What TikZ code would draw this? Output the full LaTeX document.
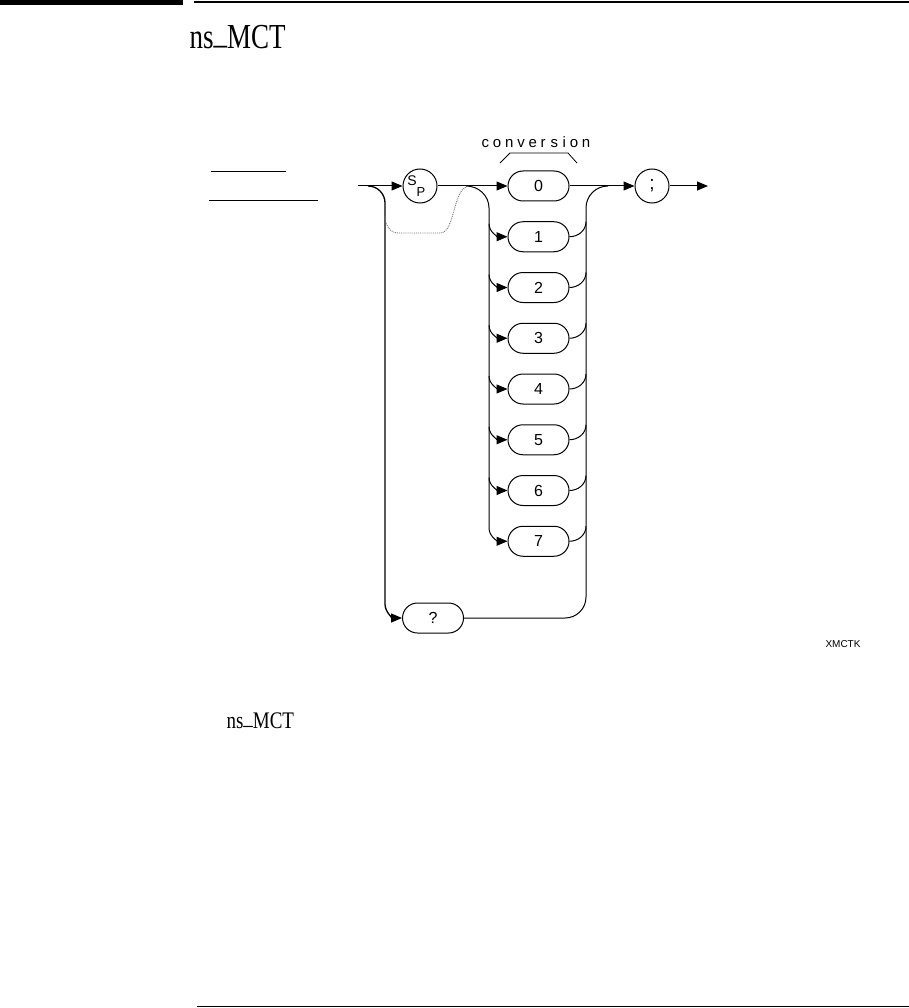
\documentclass[tikz,border=0pt]{standalone}
\usepackage{fontspec}
\setmainfont{Liberation Serif}
\newfontfamily\lbl{Liberation Sans}
\usetikzlibrary{arrows.meta}
\begin{document}
\begin{tikzpicture}[x=1pt,y=-1pt,line width=1pt,
  arr/.style={-{Triangle[length=11pt,width=9pt]}},
  box/.style={draw,rounded corners=15pt,minimum width=61pt,minimum height=30pt,inner sep=0pt,font=\lbl\fontsize{16}{16}\selectfont},
  circ/.style={draw,circle,minimum size=34pt,inner sep=0pt},
  lab/.style={inner sep=0pt,font=\lbl\fontsize{12}{12}\selectfont},
  dots/.style={densely dotted,black!55,line width=0.9pt}]
\useasboundingbox (0,0) rectangle (909,1008);
% page rules
\draw[line width=5pt] (0,2.5) -- (183,2.5);
\draw[line width=2.2pt] (194,2.3) -- (909,2.3);
\draw[line width=1.4pt] (197,1006.5) -- (909,1006.5);
% titles
\node[anchor=base west,inner sep=0pt,font=\fontsize{27}{27}\selectfont] (title) at (189,49) {\scalebox{1}[1.3]{ns\raisebox{0.15em}{\_}MCT}};
\node[anchor=base west,inner sep=0pt,font=\fontsize{19}{19}\selectfont] (sub) at (226,728) {\scalebox{1}[1.25]{ns\raisebox{0.15em}{\_}MCT}};
% blank fields
\draw (211,171.5) -- (286,171.5);
\draw (209,201) -- (318,201);
% nodes
\coordinate (start) at (358,186);
\coordinate (end) at (708,186);
\node[circ] (sp) at (420,186) {};
\node[lab,font=\lbl\fontsize{14}{14}\selectfont] (spS) at (412,180.5) {S};
\node[lab,font=\lbl\fontsize{13}{13}\selectfont] (spP) at (421,192.5) {P};
\node[box] (b0) at (538.5,186) {0};
\foreach \i in {1,...,7}{
  \pgfmathsetmacro\yy{186+50.75*\i}
  \node[box] (b\i) at (538.5,\yy) {\i};
}
\node[circ] (semi) at (652,186) {};
\node[lab,font=\lbl\fontsize{19}{19}\selectfont] (semis) at (652,186) {;};
\node[box] (q) at (433,618) {?};
% label above 0
\node[lab,font=\lbl\fontsize{15}{15}\selectfont,anchor=base] (conv) at (536,148)
 {c\hspace{3.8pt}o\hspace{3.8pt}n\hspace{3.8pt}v\hspace{3.8pt}e\hspace{3.8pt}r\hspace{5pt}s\hspace{4.5pt}i\hspace{3.8pt}o\hspace{3.8pt}n};
\draw[line width=0.8pt] (500,163) -- (510,153) -- (568,153) -- (577,163);
\node[lab,font=\lbl\fontsize{10}{10}\selectfont,anchor=base] (fig) at (843,647) {XMCTK};
% main line
\draw[arr] (start) -- (sp);
\draw[arr] (sp) -- (b0);
\draw[arr] (b0) -- (semi);
\draw[arr] (semi) -- (end);
% left branch into digit boxes
\coordinate (lt) at (466,186);
\draw[arr] (lt) to[out=0,in=90] (489,208) -- (489,528) to[out=-90,in=180] (b7.west);
\foreach \i in {1,...,6}{
  \pgfmathsetmacro\yy{186+50.75*\i-13}
  \coordinate (L\i) at (489,\yy);
  \draw[arr] (L\i) to[out=-90,in=180] (b\i.west);
}
% right collector
\foreach \i in {1,...,7}{
  \pgfmathsetmacro\yy{186+50.75*\i-15}
  \coordinate (R\i) at (586,\yy);
  \draw (b\i.east) to[out=0,in=-90] (R\i);
}
\coordinate (rt) at (608,186);
\draw (q.east) -- (565,618) to[out=0,in=-90] (586,597) -- (586,208) to[out=90,in=180] (rt);
% query bypass
\coordinate (lb) at (368,186);
\draw[arr,line width=1.3pt] (lb) to[out=0,in=90] (385,203) -- (385,604) to[out=-90,in=180] (q.west);
% dotted bypass of SP
\draw[dots] (385,216) to[out=-90,in=180] (398,233) -- (440,233) .. controls (456,233) and (452,186) .. (470,186);
\end{tikzpicture}
\end{document}
